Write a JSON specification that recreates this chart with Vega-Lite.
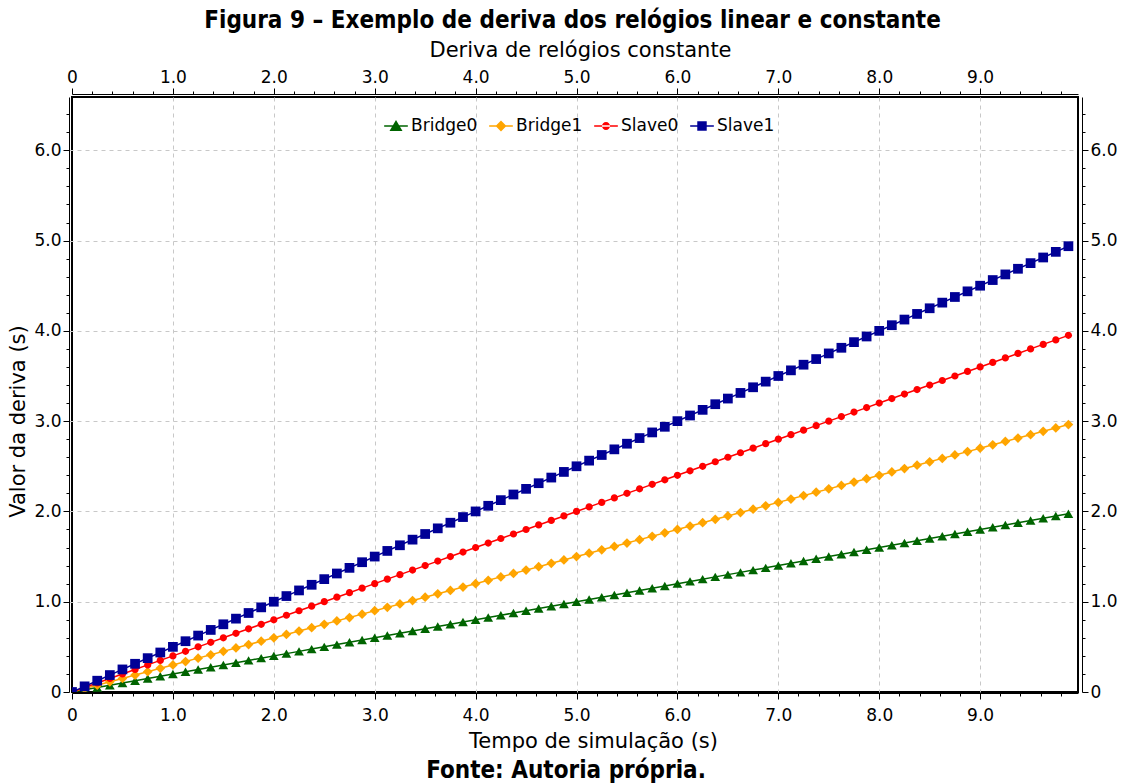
{
  "$schema": "https://vega.github.io/schema/vega-lite/v6.json",
  "padding": {"left": 6, "top": 9, "right": 6, "bottom": 2},
  "background": "white",
  "title": {"text": "Figura 9 – Exemplo de deriva dos relógios linear e constante", "font": "DejaVu Sans Condensed", "fontWeight": "bold", "fontSize": 24, "color": "black", "anchor": "middle", "offset": 5, "dx": 10},
  "config": {
    "font": "DejaVu Sans",
    "view": {"stroke": "black", "strokeWidth": 2},
    "axis": {"labelFontSize": 17, "titleFontSize": 21, "titleFontWeight": "normal", "labelColor": "black", "titleColor": "black", "domainColor": "black", "tickColor": "black", "gridColor": "#c8c8c8", "gridDash": [4, 4], "gridWidth": 1, "labelOverlap": false, "labelFlush": false, "labelBound": false, "offset": 3, "domainWidth": 1, "tickWidth": 1, "labelPadding": 2}
  },
  "vconcat": [
    {
      "width": 1006,
      "height": 595,
      "title": {"text": "Fonte: Autoria própria.", "orient": "bottom", "font": "DejaVu Sans Condensed", "fontWeight": "bold", "fontSize": 24, "color": "black", "anchor": "middle", "offset": 8, "dx": -9},
      "data": {"values": [
        {"t":0,"Bridge0":0,"Bridge1":0,"Slave0":0,"Slave1":0},
        {"t":0.125,"Bridge0":0.025,"Bridge1":0.0375,"Slave0":0.05,"Slave1":0.0625},
        {"t":0.25,"Bridge0":0.05,"Bridge1":0.075,"Slave0":0.1,"Slave1":0.125},
        {"t":0.375,"Bridge0":0.075,"Bridge1":0.1125,"Slave0":0.15,"Slave1":0.1875},
        {"t":0.5,"Bridge0":0.1,"Bridge1":0.15,"Slave0":0.2,"Slave1":0.25},
        {"t":0.625,"Bridge0":0.125,"Bridge1":0.1875,"Slave0":0.25,"Slave1":0.3125},
        {"t":0.75,"Bridge0":0.15,"Bridge1":0.225,"Slave0":0.3,"Slave1":0.375},
        {"t":0.875,"Bridge0":0.175,"Bridge1":0.2625,"Slave0":0.35,"Slave1":0.4375},
        {"t":1,"Bridge0":0.2,"Bridge1":0.3,"Slave0":0.4,"Slave1":0.5},
        {"t":1.125,"Bridge0":0.225,"Bridge1":0.3375,"Slave0":0.45,"Slave1":0.5625},
        {"t":1.25,"Bridge0":0.25,"Bridge1":0.375,"Slave0":0.5,"Slave1":0.625},
        {"t":1.375,"Bridge0":0.275,"Bridge1":0.4125,"Slave0":0.55,"Slave1":0.6875},
        {"t":1.5,"Bridge0":0.3,"Bridge1":0.45,"Slave0":0.6,"Slave1":0.75},
        {"t":1.625,"Bridge0":0.325,"Bridge1":0.4875,"Slave0":0.65,"Slave1":0.8125},
        {"t":1.75,"Bridge0":0.35,"Bridge1":0.525,"Slave0":0.7,"Slave1":0.875},
        {"t":1.875,"Bridge0":0.375,"Bridge1":0.5625,"Slave0":0.75,"Slave1":0.9375},
        {"t":2,"Bridge0":0.4,"Bridge1":0.6,"Slave0":0.8,"Slave1":1},
        {"t":2.125,"Bridge0":0.425,"Bridge1":0.6375,"Slave0":0.85,"Slave1":1.0625},
        {"t":2.25,"Bridge0":0.45,"Bridge1":0.675,"Slave0":0.9,"Slave1":1.125},
        {"t":2.375,"Bridge0":0.475,"Bridge1":0.7125,"Slave0":0.95,"Slave1":1.1875},
        {"t":2.5,"Bridge0":0.5,"Bridge1":0.75,"Slave0":1,"Slave1":1.25},
        {"t":2.625,"Bridge0":0.525,"Bridge1":0.7875,"Slave0":1.05,"Slave1":1.3125},
        {"t":2.75,"Bridge0":0.55,"Bridge1":0.825,"Slave0":1.1,"Slave1":1.375},
        {"t":2.875,"Bridge0":0.575,"Bridge1":0.8625,"Slave0":1.15,"Slave1":1.4375},
        {"t":3,"Bridge0":0.6,"Bridge1":0.9,"Slave0":1.2,"Slave1":1.5},
        {"t":3.125,"Bridge0":0.625,"Bridge1":0.9375,"Slave0":1.25,"Slave1":1.5625},
        {"t":3.25,"Bridge0":0.65,"Bridge1":0.975,"Slave0":1.3,"Slave1":1.625},
        {"t":3.375,"Bridge0":0.675,"Bridge1":1.0125,"Slave0":1.35,"Slave1":1.6875},
        {"t":3.5,"Bridge0":0.7,"Bridge1":1.05,"Slave0":1.4,"Slave1":1.75},
        {"t":3.625,"Bridge0":0.725,"Bridge1":1.0875,"Slave0":1.45,"Slave1":1.8125},
        {"t":3.75,"Bridge0":0.75,"Bridge1":1.125,"Slave0":1.5,"Slave1":1.875},
        {"t":3.875,"Bridge0":0.775,"Bridge1":1.1625,"Slave0":1.55,"Slave1":1.9375},
        {"t":4,"Bridge0":0.8,"Bridge1":1.2,"Slave0":1.6,"Slave1":2},
        {"t":4.125,"Bridge0":0.825,"Bridge1":1.2375,"Slave0":1.65,"Slave1":2.0625},
        {"t":4.25,"Bridge0":0.85,"Bridge1":1.275,"Slave0":1.7,"Slave1":2.125},
        {"t":4.375,"Bridge0":0.875,"Bridge1":1.3125,"Slave0":1.75,"Slave1":2.1875},
        {"t":4.5,"Bridge0":0.9,"Bridge1":1.35,"Slave0":1.8,"Slave1":2.25},
        {"t":4.625,"Bridge0":0.925,"Bridge1":1.3875,"Slave0":1.85,"Slave1":2.3125},
        {"t":4.75,"Bridge0":0.95,"Bridge1":1.425,"Slave0":1.9,"Slave1":2.375},
        {"t":4.875,"Bridge0":0.975,"Bridge1":1.4625,"Slave0":1.95,"Slave1":2.4375},
        {"t":5,"Bridge0":1,"Bridge1":1.5,"Slave0":2,"Slave1":2.5},
        {"t":5.125,"Bridge0":1.025,"Bridge1":1.5375,"Slave0":2.05,"Slave1":2.5625},
        {"t":5.25,"Bridge0":1.05,"Bridge1":1.575,"Slave0":2.1,"Slave1":2.625},
        {"t":5.375,"Bridge0":1.075,"Bridge1":1.6125,"Slave0":2.15,"Slave1":2.6875},
        {"t":5.5,"Bridge0":1.1,"Bridge1":1.65,"Slave0":2.2,"Slave1":2.75},
        {"t":5.625,"Bridge0":1.125,"Bridge1":1.6875,"Slave0":2.25,"Slave1":2.8125},
        {"t":5.75,"Bridge0":1.15,"Bridge1":1.725,"Slave0":2.3,"Slave1":2.875},
        {"t":5.875,"Bridge0":1.175,"Bridge1":1.7625,"Slave0":2.35,"Slave1":2.9375},
        {"t":6,"Bridge0":1.2,"Bridge1":1.8,"Slave0":2.4,"Slave1":3},
        {"t":6.125,"Bridge0":1.225,"Bridge1":1.8375,"Slave0":2.45,"Slave1":3.0625},
        {"t":6.25,"Bridge0":1.25,"Bridge1":1.875,"Slave0":2.5,"Slave1":3.125},
        {"t":6.375,"Bridge0":1.275,"Bridge1":1.9125,"Slave0":2.55,"Slave1":3.1875},
        {"t":6.5,"Bridge0":1.3,"Bridge1":1.95,"Slave0":2.6,"Slave1":3.25},
        {"t":6.625,"Bridge0":1.325,"Bridge1":1.9875,"Slave0":2.65,"Slave1":3.3125},
        {"t":6.75,"Bridge0":1.35,"Bridge1":2.025,"Slave0":2.7,"Slave1":3.375},
        {"t":6.875,"Bridge0":1.375,"Bridge1":2.0625,"Slave0":2.75,"Slave1":3.4375},
        {"t":7,"Bridge0":1.4,"Bridge1":2.1,"Slave0":2.8,"Slave1":3.5},
        {"t":7.125,"Bridge0":1.425,"Bridge1":2.1375,"Slave0":2.85,"Slave1":3.5625},
        {"t":7.25,"Bridge0":1.45,"Bridge1":2.175,"Slave0":2.9,"Slave1":3.625},
        {"t":7.375,"Bridge0":1.475,"Bridge1":2.2125,"Slave0":2.95,"Slave1":3.6875},
        {"t":7.5,"Bridge0":1.5,"Bridge1":2.25,"Slave0":3,"Slave1":3.75},
        {"t":7.625,"Bridge0":1.525,"Bridge1":2.2875,"Slave0":3.05,"Slave1":3.8125},
        {"t":7.75,"Bridge0":1.55,"Bridge1":2.325,"Slave0":3.1,"Slave1":3.875},
        {"t":7.875,"Bridge0":1.575,"Bridge1":2.3625,"Slave0":3.15,"Slave1":3.9375},
        {"t":8,"Bridge0":1.6,"Bridge1":2.4,"Slave0":3.2,"Slave1":4},
        {"t":8.125,"Bridge0":1.625,"Bridge1":2.4375,"Slave0":3.25,"Slave1":4.0625},
        {"t":8.25,"Bridge0":1.65,"Bridge1":2.475,"Slave0":3.3,"Slave1":4.125},
        {"t":8.375,"Bridge0":1.675,"Bridge1":2.5125,"Slave0":3.35,"Slave1":4.1875},
        {"t":8.5,"Bridge0":1.7,"Bridge1":2.55,"Slave0":3.4,"Slave1":4.25},
        {"t":8.625,"Bridge0":1.725,"Bridge1":2.5875,"Slave0":3.45,"Slave1":4.3125},
        {"t":8.75,"Bridge0":1.75,"Bridge1":2.625,"Slave0":3.5,"Slave1":4.375},
        {"t":8.875,"Bridge0":1.775,"Bridge1":2.6625,"Slave0":3.55,"Slave1":4.4375},
        {"t":9,"Bridge0":1.8,"Bridge1":2.7,"Slave0":3.6,"Slave1":4.5},
        {"t":9.125,"Bridge0":1.825,"Bridge1":2.7375,"Slave0":3.65,"Slave1":4.5625},
        {"t":9.25,"Bridge0":1.85,"Bridge1":2.775,"Slave0":3.7,"Slave1":4.625},
        {"t":9.375,"Bridge0":1.875,"Bridge1":2.8125,"Slave0":3.75,"Slave1":4.6875},
        {"t":9.5,"Bridge0":1.9,"Bridge1":2.85,"Slave0":3.8,"Slave1":4.75},
        {"t":9.625,"Bridge0":1.925,"Bridge1":2.8875,"Slave0":3.85,"Slave1":4.8125},
        {"t":9.75,"Bridge0":1.95,"Bridge1":2.925,"Slave0":3.9,"Slave1":4.875},
        {"t":9.875,"Bridge0":1.975,"Bridge1":2.9625,"Slave0":3.95,"Slave1":4.9375}
      ]},
      "transform": [{"fold": ["Bridge0", "Bridge1", "Slave0", "Slave1"], "as": ["series", "value"]}],
      "resolve": {"axis": {"x": "independent", "y": "independent"}, "scale": {"color": "independent", "shape": "independent"}, "legend": {"color": "independent", "shape": "independent"}},
      "layer": [
        {
          "mark": {"type": "line", "strokeWidth": 1.5, "clip": true},
          "encoding": {
            "x": {"field": "t", "type": "quantitative", "scale": {"domain": [0, 9.97], "nice": false, "zero": false},
              "axis": {"orient": "bottom", "title": "Tempo de simulação (s)", "titlePadding": 7, "titleX": 521, "offset": 1, "labelPadding": 8,
                "values": [0,0.2,0.4,0.6,0.8,1,1.2,1.4,1.6,1.8,2,2.2,2.4,2.6,2.8,3,3.2,3.4,3.6,3.8,4,4.2,4.4,4.6,4.8,5,5.2,5.4,5.6,5.8,6,6.2,6.4,6.6,6.8,7,7.2,7.4,7.6,7.8,8,8.2,8.4,8.6,8.8,9,9.2,9.4,9.6,9.8],
                "labelExpr": "abs(datum.value - round(datum.value)) < 0.01 ? (datum.value == 0 ? '0' : format(datum.value, '.1f')) : ''",
                "tickSize": {"condition": {"test": "abs(datum.value - round(datum.value)) < 0.01", "value": 6}, "value": 3},
                "gridOpacity": {"condition": {"test": "abs(datum.value - round(datum.value)) < 0.01 && datum.value > 0", "value": 1}, "value": 0}}},
            "y": {"field": "value", "type": "quantitative", "scale": {"domain": [0, 6.59], "nice": false},
              "axis": {"orient": "left", "title": "Valor da deriva (s)", "titlePadding": 5, "titleY": 324,
                "values": [0,0.2,0.4,0.6,0.8,1,1.2,1.4,1.6,1.8,2,2.2,2.4,2.6,2.8,3,3.2,3.4,3.6,3.8,4,4.2,4.4,4.6,4.8,5,5.2,5.4,5.6,5.8,6,6.2,6.4],
                "labelExpr": "abs(datum.value - round(datum.value)) < 0.01 ? (datum.value == 0 ? '0' : format(datum.value, '.1f')) : ''",
                "tickSize": {"condition": {"test": "abs(datum.value - round(datum.value)) < 0.01", "value": 6}, "value": 3},
                "gridOpacity": {"condition": {"test": "abs(datum.value - round(datum.value)) < 0.01 && datum.value > 0", "value": 1}, "value": 0}}},
            "color": {"field": "series", "type": "nominal", "scale": {"domain": ["Bridge0", "Bridge1", "Slave0", "Slave1"], "range": ["#006400", "#FFA500", "#FF0000", "#000096"]}, "legend": null}
          }
        },
        {
          "mark": {"type": "point", "filled": true, "opacity": 1, "clip": true, "size": 95},
          "encoding": {
            "x": {"field": "t", "type": "quantitative", "scale": {"domain": [0, 9.97], "nice": false, "zero": false},
              "axis": {"orient": "top", "title": "Deriva de relógios constante", "titlePadding": 8, "titleX": 508, "grid": false,
                "values": [0,0.2,0.4,0.6,0.8,1,1.2,1.4,1.6,1.8,2,2.2,2.4,2.6,2.8,3,3.2,3.4,3.6,3.8,4,4.2,4.4,4.6,4.8,5,5.2,5.4,5.6,5.8,6,6.2,6.4,6.6,6.8,7,7.2,7.4,7.6,7.8,8,8.2,8.4,8.6,8.8,9,9.2,9.4,9.6,9.8],
                "labelExpr": "abs(datum.value - round(datum.value)) < 0.01 ? (datum.value == 0 ? '0' : format(datum.value, '.1f')) : ''",
                "tickSize": {"condition": {"test": "abs(datum.value - round(datum.value)) < 0.01", "value": 6}, "value": 3}}},
            "y": {"field": "value", "type": "quantitative", "scale": {"domain": [0, 6.59], "nice": false},
              "axis": {"orient": "right", "title": null, "grid": false, "offset": 4,
                "values": [0,0.2,0.4,0.6,0.8,1,1.2,1.4,1.6,1.8,2,2.2,2.4,2.6,2.8,3,3.2,3.4,3.6,3.8,4,4.2,4.4,4.6,4.8,5,5.2,5.4,5.6,5.8,6,6.2,6.4],
                "labelExpr": "abs(datum.value - round(datum.value)) < 0.01 ? (datum.value == 0 ? '0' : format(datum.value, '.1f')) : ''",
                "tickSize": {"condition": {"test": "abs(datum.value - round(datum.value)) < 0.01", "value": 6}, "value": 3}}},
            "color": {"field": "series", "type": "nominal", "scale": {"domain": ["Bridge0", "Bridge1", "Slave0", "Slave1"], "range": ["#006400", "#FFA500", "#FF0000", "#000096"]}, "legend": null},
            "shape": {"field": "series", "type": "nominal", "scale": {"domain": ["Bridge0", "Bridge1", "Slave0", "Slave1"], "range": [
              "triangle-up",
              "diamond",
              "M-0.74,0A0.74,0.74 0 1,0 0.74,0A0.74,0.74 0 1,0 -0.74,0Z",
              "square"]}, "legend": null}
          }
        },
        {
          "transform": [{"filter": "datum.t < 0"}],
          "mark": {"type": "point", "filled": true, "opacity": 1},
          "encoding": {
            "x": {"field": "t", "type": "quantitative", "axis": null, "scale": {"domain": [0, 9.97], "nice": false, "zero": false}},
            "y": {"field": "value", "type": "quantitative", "axis": null, "scale": {"domain": [0, 6.59], "nice": false}},
            "color": {"field": "series", "type": "nominal", "scale": {"domain": ["Bridge0", "Bridge1", "Slave0", "Slave1"], "range": ["#006400", "#FFA500", "#FF0000", "#000096"]},
              "legend": {"title": null, "orient": "none", "legendX": 312, "legendY": 17, "direction": "horizontal", "labelFontSize": 17, "labelColor": "black", "symbolSize": 560, "labelOffset": 3, "columnPadding": 11, "symbolStrokeWidth": 0, "symbolOpacity": 1}},
            "shape": {"field": "series", "type": "nominal", "scale": {"domain": ["Bridge0", "Bridge1", "Slave0", "Slave1"], "range": [
              "M-1,-0.065H1V0.065H-1ZM-0.55,0.42L0,-0.5L0.55,0.42Z",
              "M-1,-0.065H1V0.065H-1ZM0,-0.46L0.46,0L0,0.46L-0.46,0Z",
              "M-1,-0.065H1V0.065H-1ZM-0.34,0A0.34,0.34 0 1,0 0.34,0A0.34,0.34 0 1,0 -0.34,0Z",
              "M-1,-0.065H1V0.065H-1ZM-0.4,-0.4H0.4V0.4H-0.4Z"]},
              "legend": {"title": null, "orient": "none", "legendX": 312, "legendY": 17, "direction": "horizontal", "labelFontSize": 17, "labelColor": "black", "symbolSize": 560, "labelOffset": 3, "columnPadding": 11, "symbolStrokeWidth": 0, "symbolOpacity": 1}}
          }
        }
      ]
    }
  ]
}
